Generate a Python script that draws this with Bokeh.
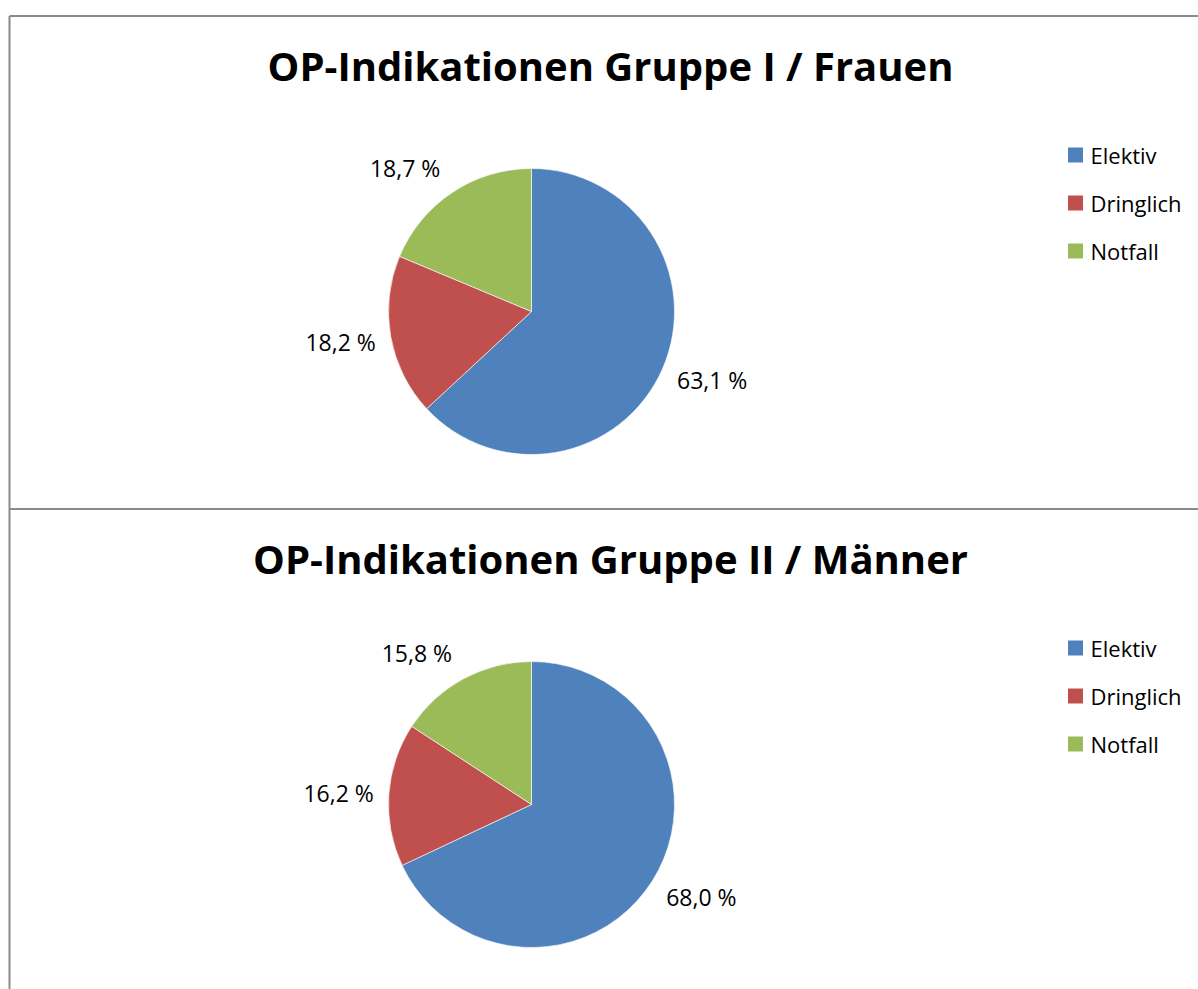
import numpy as np
from bokeh.plotting import figure
from bokeh.models import Range1d, ColumnDataSource
from bokeh.core.properties import value
from bokeh.embed import file_html
from bokeh.resources import INLINE

# ---- data ----
categories = ["Elektiv", "Dringlich", "Notfall"]
frauen = [63.1, 18.2, 18.7]
maenner = [68.0, 16.2, 15.8]
titles = ["OP-Indikationen Gruppe I / Frauen", "OP-Indikationen Gruppe II / Männer"]
colors = ["#4F81BD", "#C0504D", "#9BBB59"]

# ---- layout (page pixel coordinates, y measured from top) ----
W, H = 1198, 989
def yd(y_img):
    return H - y_img   # convert image y to data y (upward)

p = figure(width=W, height=H, output_backend="svg", toolbar_location=None,
           x_range=Range1d(0, W), y_range=Range1d(0, H),
           min_border=0, outline_line_color=None,
           background_fill_color="white", border_fill_color="white")
p.axis.visible = False
p.grid.visible = False

block_tops = [15.5, 508.5]
border_col = "#8a8a8a"

# frame lines
p.segment(x0=[9, 9, 9], y0=[yd(15.5), yd(508.5), yd(15.5)],
          x1=[W, W, 9], y1=[yd(15.5), yd(508.5), yd(H)],
          line_color=border_col, line_width=2)

cx = 531
R = 143

for title, vals, top in zip(titles, [frauen, maenner], block_tops):
    cy_img = top + 295.5
    cy = yd(cy_img)
    fr = np.array(vals) / 100.0
    cum = np.concatenate([[0], np.cumsum(fr)])
    start = np.pi / 2 - 2 * np.pi * cum[:-1]
    end = np.pi / 2 - 2 * np.pi * cum[1:]
    src = ColumnDataSource(dict(start=start, end=end, color=colors, cat=categories))
    p.wedge(x=cx, y=cy, radius=R, start_angle="start", end_angle="end",
            direction="clock", fill_color="color", line_color="white",
            line_width=0.6, source=src)

    # data labels (outside end)
    mid = (start + end) / 2
    ux = np.cos(mid)
    uy_img = -np.sin(mid)
    labels = [f"{v:.1f}".replace(".", ",") + " %" for v in vals]
    for lab, bx, by in zip(labels, ux, uy_img):
        ax = cx + 150 * bx
        ay = cy_img + 150 * by
        if bx >= 0:
            tx, align = ax + 8, "left"
        else:
            tx, align = ax - 8, "right"
        ty = ay + 22 * by
        p.text(x=[tx], y=[yd(ty)], text=[lab], text_align=align,
               text_baseline="middle", text_font=value("Open Sans"),
               text_font_size="23px", text_color="black")

    # title
    p.text(x=[610], y=[yd(top + 49)], text=[title], text_align="center",
           text_baseline="middle", text_font=value("Open Sans"),
           text_font_style="bold", text_font_size="40px", text_color="black")

    # legend
    ly = [yd(top + 139 + 48 * i) for i in range(len(categories))]
    p.rect(x=[1075] * 3, y=ly, width=15, height=15, fill_color=colors,
           line_color=None)
    p.text(x=[1090] * 3, y=ly, text=categories, text_align="left",
           text_baseline="middle", text_font=value("Open Sans"),
           text_font_size="22px", text_color="black")

open("out.html", "w").write(file_html(p, INLINE))
